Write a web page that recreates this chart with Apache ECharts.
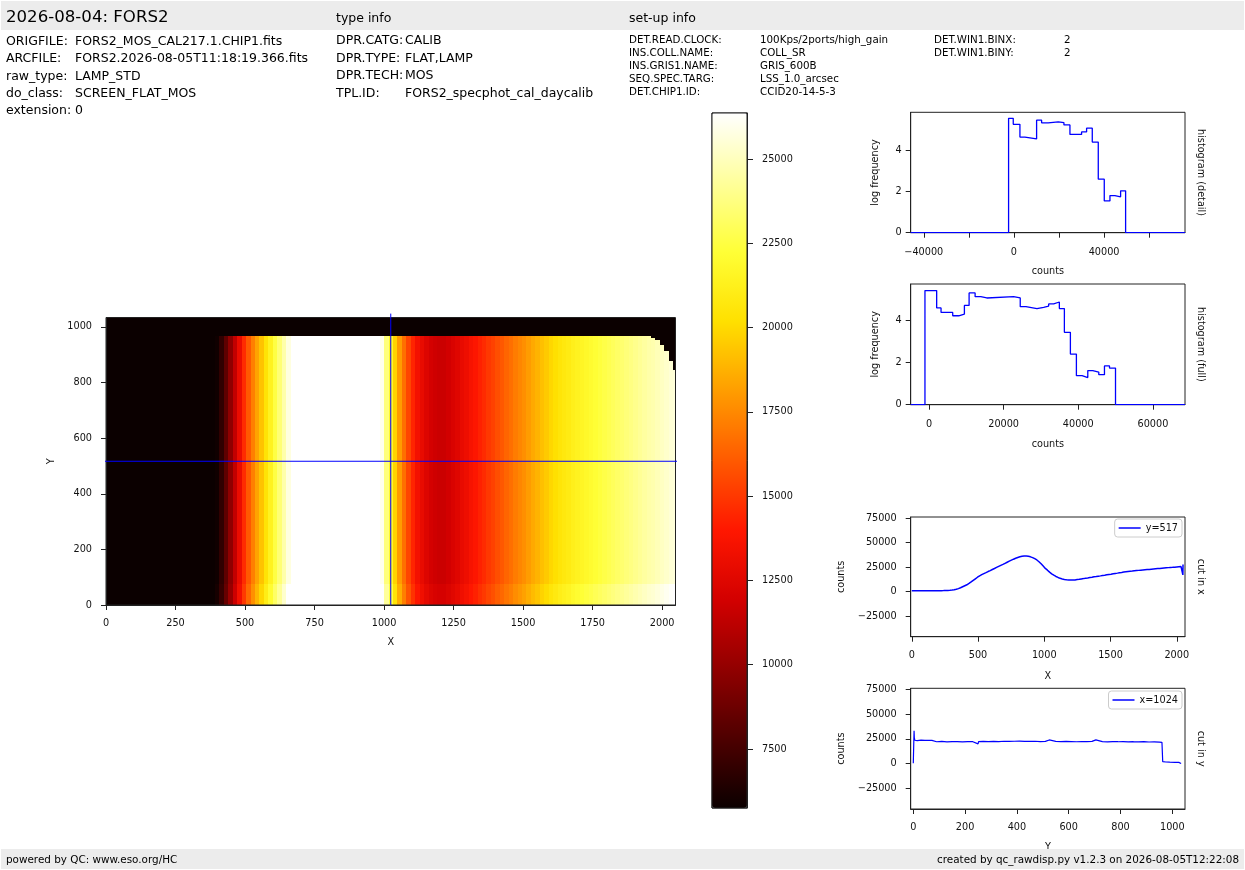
<!DOCTYPE html>
<html lang="en">
<head>
<meta charset="UTF-8">
<title>FORS2 raw display</title>
<script src="https://cdn.jsdelivr.net/npm/echarts@6.0.0/dist/echarts.min.js"></script>
<style>html,body{margin:0;padding:0;background:#fff;}</style>
</head>
<body>
<div id="main" style="width:1245px;height:870px"></div>
<script>
// ---- header texts
var title = '2026-08-04: FORS2';
var fileKeys = ['ORIGFILE:', 'ARCFILE:', 'raw_type:', 'do_class:', 'extension:'];
var fileVals = ['FORS2_MOS_CAL217.1.CHIP1.fits', 'FORS2.2026-08-05T11:18:19.366.fits', 'LAMP_STD', 'SCREEN_FLAT_MOS', '0'];
var typeKeys = ['DPR.CATG:', 'DPR.TYPE:', 'DPR.TECH:', 'TPL.ID:'];
var typeVals = ['CALIB', 'FLAT,LAMP', 'MOS', 'FORS2_specphot_cal_daycalib'];
var setupKeys = ['DET.READ.CLOCK:', 'INS.COLL.NAME:', 'INS.GRIS1.NAME:', 'SEQ.SPEC.TARG:', 'DET.CHIP1.ID:'];
var setupVals = ['100Kps/2ports/high_gain', 'COLL_SR', 'GRIS_600B', 'LSS_1.0_arcsec', 'CCID20-14-5-3'];
var setupKeys2 = ['DET.WIN1.BINX:', 'DET.WIN1.BINY:'];
var setupVals2 = ['2', '2'];
var footLeft = 'powered by QC: www.eso.org/HC';
var footRight = 'created by qc_rawdisp.py v1.2.3 on 2026-08-05T12:22:08';

// ---- detector / cuts
var nx = 2048, ny = 1034;
var cutRow = 517, cutCol = 1024;
// cut along x at row 517: [x, counts]
var cutX = [[0,800],[16,800],[32,810],[48,800],[64,820],[80,810],[96,820],[112,830],[128,830],[144,840],
  [160,850],[176,860],[192,880],[208,900],[224,930],[240,970],[256,1030],[272,1120],[288,1260],[304,1480],
  [320,1800],[336,2300],[352,3000],[368,3900],[384,4900],[400,5900],[416,6900],[432,8300],[448,9800],[464,11400],
  [480,13000],[496,14600],[512,16000],[528,17200],[544,18300],[560,19300],[576,20400],[592,21400],[608,22500],[624,23500],
  [640,24600],[656,25700],[672,26700],[688,27700],[704,28800],[720,29900],[736,31000],[752,32000],[768,33000],[784,33900],
  [800,34700],[816,35400],[832,35900],[848,36200],[864,36200],[880,35900],[896,35400],[912,34600],[928,33500],[944,32200],
  [960,30400],[976,28300],[992,26000],[1008,23600],[1024,21800],[1040,19800],[1056,18100],[1072,16700],[1088,15400],[1104,14400],
  [1120,13500],[1136,12900],[1152,12400],[1168,12000],[1184,11800],[1200,11700],[1216,11700],[1232,11900],[1248,12200],[1264,12500],
  [1280,12900],[1296,13200],[1312,13600],[1328,13900],[1344,14300],[1360,14600],[1376,15000],[1392,15300],[1408,15700],[1424,16000],
  [1440,16400],[1456,16700],[1472,17100],[1488,17400],[1504,17700],[1520,18100],[1536,18500],[1552,18800],[1568,19200],[1584,19500],
  [1600,19900],[1616,20200],[1632,20500],[1648,20700],[1664,20900],[1680,21200],[1696,21400],[1712,21600],[1728,21800],[1744,22000],
  [1760,22200],[1776,22400],[1792,22600],[1808,22800],[1824,23000],[1840,23200],[1856,23400],[1872,23600],[1888,23800],[1904,24000],
  [1920,24200],[1936,24400],[1952,24600],[1968,24700],[1984,24900],[2000,25100],[2016,25300],[2032,25500],[2044,25600],[2046,17000],[2047,27500]];
// cut along y at column 1024: [y, counts]
var cutY = [[0,200],[2,600],[3,33000],[4,26000],[6,23500],[15,23200],[30,23600],[45,23300],[60,23500],[72,23400],
  [76,22200],[90,22000],[110,22300],[130,21900],[150,22100],[170,22200],[190,21900],[210,22100],[230,22000],[250,19800],
  [252,22200],[270,22300],[290,22100],[310,22400],[330,22200],[350,22500],[370,22300],[390,22500],[410,22600],[430,22400],
  [450,22300],[470,22500],[490,22200],[510,22300],[525,23800],[528,22200],[550,22400],[570,22100],[590,22300],[610,22200],
  [630,22000],[650,22200],[670,22100],[690,22300],[705,23900],[708,22000],[730,22100],[750,21900],[770,22100],[790,22000],
  [810,22200],[830,21900],[850,22000],[870,21800],[890,22100],[910,21700],[930,21900],[950,21600],[960,21400],[963,1800],
  [975,1500],[990,1300],[1010,1200],[1025,1100],[1030,1300],[1034,0]];
// image row bands [y0, y1, relative level] and illuminated top edge near the right corner [x, y]
var imgBands = [[0, 75, 1.03], [75, 966, 1.0], [966, 1034, 0.06]];
var imgTopEdge = [[1952,966],[1968,961],[1984,952],[2000,936],[2016,912],[2032,878],[2044,845]];

// ---- histograms (log frequency), step edges and levels
var histDetailEdges = [-2370,-300,2660,4880,10060,12280,15230,19670,22190,24850,30020,32240,34760,37420,40080,42600,44810,47330,49550];
var histDetailVals = [5.54,5.25,4.63,4.54,5.45,5.32,5.37,5.33,5.22,4.76,4.88,5.06,4.39,2.59,1.54,1.80,1.74,2.03];
var histFullEdges = [-1080,2060,3230,6360,7970,9490,10750,12360,13880,15500,22660,24450,25980,28930,30720,32070,33410,34930,36280,37890,39500,41020,42550,43890,45500,47020,48370,49980];
var histFullVals = [5.39,4.57,4.36,4.20,4.28,4.69,5.28,5.10,5.04,5.10,5.04,4.63,4.54,4.60,4.66,4.76,4.85,4.54,3.42,2.39,1.37,1.28,1.61,1.54,1.42,1.83,1.73];

// ---- colour scale and ticks
var cbMin = 5750, cbMax = 26365;
var hotColors = ['#0b0000','#4e0000','#910000','#d30000','#ff1700','#ff5a00','#ff9d00','#ffe000','#ffff36','#ffff9b','#ffffff'];
var cbTicks = [7500, 10000, 12500, 15000, 17500, 20000, 22500, 25000];
var imgXTicks = [0, 250, 500, 750, 1000, 1250, 1500, 1750, 2000];
var imgYTicks = [0, 200, 400, 600, 800, 1000];
var histDetailTicks = [-40000, -20000, 0, 20000, 40000, 60000];
var histDetailLabels = [-40000, 0, 40000];
var histFullTicks = [0, 20000, 40000, 60000];
var histYTicks = [0, 2, 4];
var cutCountTicks = [-25000, 0, 25000, 50000, 75000];
var cutXTicks = [0, 500, 1000, 1500, 2000];
var cutYTicks = [0, 200, 400, 600, 800, 1000];

var FONT = 'DejaVu Sans';
var BLUE = '#0000ff';

// image cells built from the x cut and the row bands
function clampC(v) { return Math.max(cbMin, Math.min(cbMax, v)); }
var imgCells = [];
cutX.forEach(function (p, i) {
    var x0 = i === 0 ? 0 : (cutX[i - 1][0] + p[0]) / 2;
    var x1 = i === cutX.length - 1 ? nx : (p[0] + cutX[i + 1][0]) / 2;
    var edge = imgBands[1][1];
    imgTopEdge.forEach(function (e) { if (e[0] <= p[0]) edge = e[1]; });
    imgBands.forEach(function (b) {
        var y0 = b[0], y1 = b[1];
        if (b[2] >= 0.5) y1 = Math.min(y1, edge); else y0 = Math.min(y0, edge);
        if (y1 > y0) imgCells.push([x0, x1, y0, y1, clampC(p[1] * b[2])]);
    });
});

function stepData(edges, vals, xmin, xmax) {
    var d = [[xmin, 0]];
    vals.forEach(function (v, i) { d.push([edges[i], v]); });
    d.push([edges[edges.length - 1], 0]);
    d.push([xmax, 0]);
    return d;
}
function fmt(v) { return v < 0 ? '\u2212' + Math.abs(v) : String(v); }

function txt(x, y, s, size, align) {
    return {type: 'text', x: x, y: y, silent: true, z: 10,
        style: {text: s, x: 0, y: 0, font: size + 'px "' + FONT + '"', fill: '#000',
            textAlign: align || 'left', textVerticalAlign: 'middle', align: align || 'left', verticalAlign: 'middle'}};
}

// value axis helper
function vAxis(o) {
    return {
        type: 'value', gridIndex: o.grid, min: o.min, max: o.max, position: o.position,
        axisLine: {show: true, onZero: false, lineStyle: {color: '#222', width: 1}},
        axisTick: {show: true, length: o.tickLen || 5, customValues: o.ticks, lineStyle: {color: '#222', width: 1}},
        axisLabel: {show: true, customValues: o.labels || o.ticks, margin: o.margin, formatter: fmt,
            fontFamily: FONT, fontSize: 9.7, color: '#111'},
        splitLine: {show: false},
        name: o.name || '', nameLocation: 'middle', nameGap: o.nameGap,
        nameTextStyle: {fontFamily: FONT, fontSize: 9.7, color: '#111'}
    };
}
function nameAxis(grid, name) {
    return {type: 'value', gridIndex: grid, position: 'right', min: 0, max: 1,
        axisLine: {show: false}, axisTick: {show: false}, axisLabel: {show: false}, splitLine: {show: false},
        name: name, nameLocation: 'middle', nameGap: 11, nameRotate: -90,
        nameTextStyle: {fontFamily: FONT, fontSize: 9.7, color: '#111'}};
}

var boxGrid = {show: true, borderColor: '#222', borderWidth: 1, backgroundColor: 'transparent', containLabel: false, outerBoundsMode: 'none'};
function g(l, t, w, h) { return Object.assign({left: l, top: t, width: w, height: h}, boxGrid); }

var graphics = [
    {type: 'rect', shape: {x: 1, y: 1, width: 1243, height: 29}, style: {fill: '#ececec'}, z: 1, silent: true},
    {type: 'rect', shape: {x: 1, y: 849, width: 1243, height: 20}, style: {fill: '#ececec'}, z: 1, silent: true},
    txt(6, 18, title, 16.6),
    txt(336, 19, 'type info', 12.5),
    txt(629, 19, 'set-up info', 12.5),
    txt(6, 860, footLeft, 10.4),
    txt(1239, 860, footRight, 10.4, 'right'),
    {type: 'rect', shape: {x: 712, y: 113, width: 35, height: 695}, style: {fill: 'none', stroke: '#222', lineWidth: 1}, z: 100, silent: true}
];
var fileY = [42, 59, 77, 94, 111];
fileKeys.forEach(function (k, i) { graphics.push(txt(6, fileY[i], k, 12.5)); graphics.push(txt(75, fileY[i], fileVals[i], 12.5)); });
var typeY = [41, 59, 76, 94];
typeKeys.forEach(function (k, i) { graphics.push(txt(336, typeY[i], k, 12.5)); graphics.push(txt(405, typeY[i], typeVals[i], 12.5)); });
var setupY = [40, 53, 66, 79, 92];
setupKeys.forEach(function (k, i) { graphics.push(txt(629, setupY[i], k, 10.3)); graphics.push(txt(760, setupY[i], setupVals[i], 10.3)); });
setupKeys2.forEach(function (k, i) { graphics.push(txt(934, setupY[i], k, 10.3)); graphics.push(txt(1064, setupY[i], setupVals2[i], 10.3)); });

var legendBase = {orient: 'vertical', icon: 'rect', itemWidth: 22, itemHeight: 1.5, itemGap: 4,
    padding: [4, 4], borderColor: '#ccc', borderWidth: 1, borderRadius: 3, backgroundColor: '#fff',
    textStyle: {fontFamily: FONT, fontSize: 9.7, color: '#111'}};

var option = {
    animation: false,
    backgroundColor: '#fff',
    graphic: graphics,
    grid: [
        g(106, 317.5, 569.5, 287.5),
        g(712, 113, 35, 695),
        g(910.7, 112.3, 274.3, 120.4),
        g(910.7, 284, 274.3, 120.7),
        g(910.7, 517, 274.3, 119.7),
        g(910.7, 688.3, 274.3, 120.7)
    ],
    xAxis: [
        vAxis({grid: 0, min: 0, max: nx, ticks: imgXTicks, margin: 13, name: 'X', nameGap: 32}),
        {type: 'value', gridIndex: 1, show: false, min: 0, max: 1},
        vAxis({grid: 2, min: -45800, max: 75900, ticks: histDetailTicks, labels: histDetailLabels, margin: 15, name: 'counts', nameGap: 34}),
        vAxis({grid: 3, min: -4900, max: 68600, ticks: histFullTicks, margin: 15, name: 'counts', nameGap: 35}),
        vAxis({grid: 4, min: -8, max: 2062, ticks: cutXTicks, margin: 14, name: 'X', nameGap: 35}),
        vAxis({grid: 5, min: -10, max: 1049, ticks: cutYTicks, margin: 13, name: 'Y', nameGap: 33})
    ],
    yAxis: [
        vAxis({grid: 0, min: 0, max: ny, ticks: imgYTicks, margin: 14, name: 'Y', nameGap: 50}),
        vAxis({grid: 1, min: cbMin, max: cbMax, ticks: cbTicks, margin: 15, tickLen: 6, position: 'right'}),
        vAxis({grid: 2, min: 0, max: 5.83, ticks: histYTicks, margin: 9, name: 'log frequency', nameGap: 30}),
        vAxis({grid: 3, min: 0, max: 5.70, ticks: histYTicks, margin: 9, name: 'log frequency', nameGap: 30}),
        vAxis({grid: 4, min: -46000, max: 76000, ticks: cutCountTicks, margin: 14, name: 'counts', nameGap: 64}),
        vAxis({grid: 5, min: -46000, max: 76000, ticks: cutCountTicks, margin: 14, name: 'counts', nameGap: 64}),
        nameAxis(2, 'histogram (detail)'),
        nameAxis(3, 'histogram (full)'),
        nameAxis(4, 'cut in x'),
        nameAxis(5, 'cut in y')
    ],
    visualMap: {
        type: 'continuous', min: cbMin, max: cbMax, dimension: 4, seriesIndex: 0,
        inRange: {color: hotColors}, calculable: false, hoverLink: false,
        orient: 'vertical', left: 712, top: 113, itemWidth: 35, itemHeight: 695, padding: 0,
        textStyle: {fontSize: 0}
    },
    legend: [
        Object.assign({data: ['y=' + cutRow], right: 63, top: 519}, legendBase),
        Object.assign({data: ['x=' + cutCol], right: 63, top: 691}, legendBase)
    ],
    series: [
        {
            type: 'custom', xAxisIndex: 0, yAxisIndex: 0, z: -1, silent: true, clip: true,
            data: imgCells, encode: {x: [0, 1], y: [2, 3]},
            renderItem: function (params, api) {
                // snap cells to whole pixels so neighbouring cells meet without seams
                var a = api.coord([api.value(0), api.value(2)]);
                var b = api.coord([api.value(1), api.value(3)]);
                var xl = Math.round(a[0]), xr = Math.round(b[0]);
                var yt = Math.round(b[1]), yb = Math.round(a[1]);
                return {type: 'rect', shape: {x: xl, y: yt, width: xr - xl, height: yb - yt},
                    style: {fill: api.visual('color')}};
            }
        },
        {type: 'line', xAxisIndex: 0, yAxisIndex: 0, clip: false, symbol: 'none', silent: true, z: 5,
            lineStyle: {color: BLUE, width: 1}, data: [[-21, cutRow], [nx + 25, cutRow]]},
        {type: 'line', xAxisIndex: 0, yAxisIndex: 0, clip: false, symbol: 'none', silent: true, z: 5,
            lineStyle: {color: BLUE, width: 1}, data: [[cutCol, 0], [cutCol, ny + 14]]},
        {type: 'line', xAxisIndex: 2, yAxisIndex: 2, step: 'end', symbol: 'none', silent: true,
            lineStyle: {color: BLUE, width: 1.3}, data: stepData(histDetailEdges, histDetailVals, -45800, 75900)},
        {type: 'line', xAxisIndex: 3, yAxisIndex: 3, step: 'end', symbol: 'none', silent: true,
            lineStyle: {color: BLUE, width: 1.3}, data: stepData(histFullEdges, histFullVals, -4900, 68600)},
        {name: 'y=' + cutRow, type: 'line', xAxisIndex: 4, yAxisIndex: 4, symbol: 'none', silent: true,
            color: BLUE, lineStyle: {color: BLUE, width: 1.5}, data: cutX},
        {name: 'x=' + cutCol, type: 'line', xAxisIndex: 5, yAxisIndex: 5, symbol: 'none', silent: true,
            color: BLUE, lineStyle: {color: BLUE, width: 1.2}, data: cutY}
    ]
};

var chart = echarts.init(document.getElementById('main'));
chart.setOption(option);
</script>
</body>
</html>
